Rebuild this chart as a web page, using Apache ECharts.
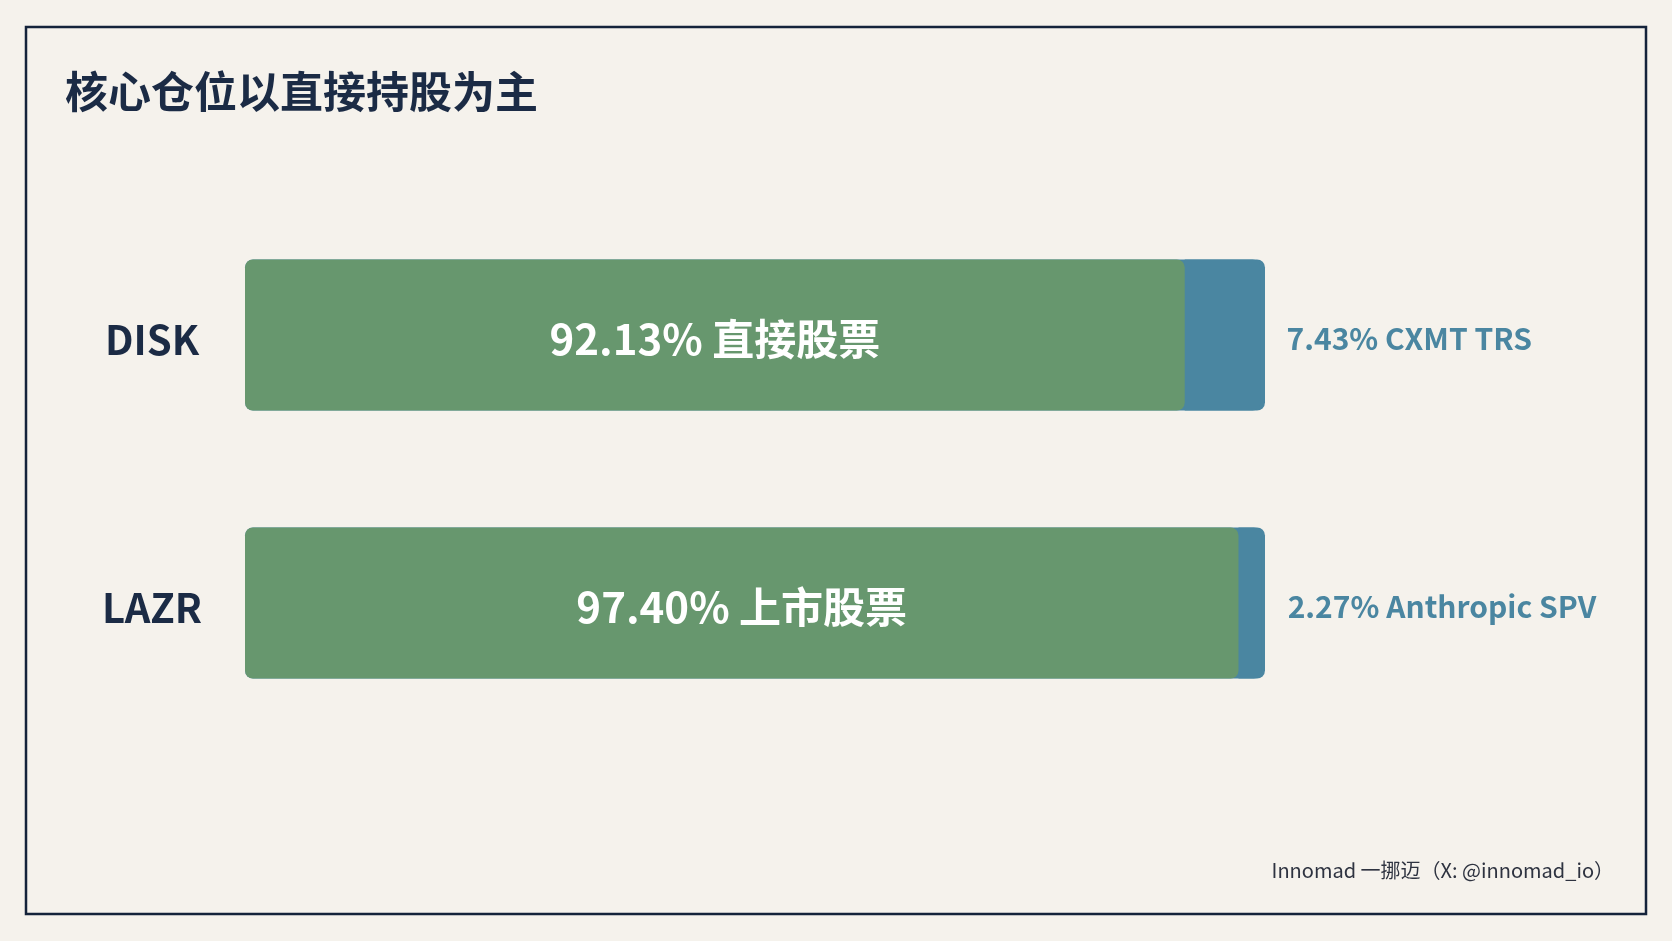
<!DOCTYPE html>
<html>
<head>
<meta charset="utf-8">
<script src="https://cdn.jsdelivr.net/npm/echarts@6/dist/echarts.min.js"></script>
<style>
html,body{margin:0;padding:0;background:#f5f2ec;}
#chart{width:1672px;height:941px;}
</style>
</head>
<body>
<div id="chart"></div>
<script>
var categories = ['DISK', 'LAZR'];
var directValues = [92.13, 97.40];
var directNames = ['直接股票', '上市股票'];
var otherValues = [7.43, 2.27];
var otherNames = ['CXMT TRS', 'Anthropic SPV'];
var titleText = '核心仓位以直接持股为主';
var footerText = 'Innomad 一挪迈（X: @innomad_io）';

var FONT = '"Noto Sans CJK SC", "Noto Sans", sans-serif';
var chart = echarts.init(document.getElementById('chart'));
chart.setOption({
  backgroundColor: '#f5f2ec',
  animation: false,
  title: {
    text: titleText,
    left: 60,
    top: 65,
    textStyle: { fontFamily: FONT, fontSize: 43, fontWeight: 'bold', color: '#1b2b45' }
  },
  graphic: [
    {
      type: 'rect',
      shape: { x: 26, y: 27, width: 1620, height: 887 },
      style: { fill: 'none', stroke: '#14233a', lineWidth: 2.5 },
      silent: true
    },
    {
      type: 'text',
      right: 58,
      top: 860,
      style: { text: footerText, font: '20px ' + FONT, fill: '#2e3340' }
    }
  ],
  grid: { left: 245, right: 407, top: 201, bottom: 204 },
  xAxis: { type: 'value', min: 0, max: 100, show: false },
  yAxis: {
    type: 'category',
    data: categories,
    inverse: true,
    axisLine: { show: false },
    axisTick: { show: false },
    axisLabel: {
      margin: 93,
      align: 'center',
      formatter: '{a|{value}}',
      rich: {
        a: {
          padding: [10, 0, 0, 0],
          fontFamily: FONT,
          fontSize: 40,
          fontWeight: 'bold',
          color: '#1b2b45'
        }
      }
    }
  },
  series: [
    {
      name: 'direct',
      type: 'bar',
      stack: 'total',
      barWidth: 151,
      z: 3,
      data: directValues,
      itemStyle: { color: '#67976e', borderRadius: 8 },
      label: {
        show: true,
        position: 'inside',
        offset: [0, 4],
        formatter: function (p) { return p.value.toFixed(2) + '% ' + directNames[p.dataIndex]; },
        fontFamily: FONT,
        fontSize: 42,
        fontWeight: 'bold',
        color: '#ffffff'
      }
    },
    {
      name: 'other',
      type: 'bar',
      stack: 'total',
      barWidth: 151,
      z: 2,
      data: otherValues,
      showBackground: true,
      backgroundStyle: { color: '#4a86a1', borderRadius: 8 },
      itemStyle: { color: '#4a86a1', borderRadius: [0, 8, 8, 0] },
      label: {
        show: true,
        position: 'right',
        distance: 26,
        offset: [0, 4],
        formatter: function (p) { return p.value.toFixed(2) + '% ' + otherNames[p.dataIndex]; },
        fontFamily: FONT,
        fontSize: 30,
        fontWeight: 'bold',
        color: '#4a86a1'
      }
    }
  ]
});
</script>
</body>
</html>
